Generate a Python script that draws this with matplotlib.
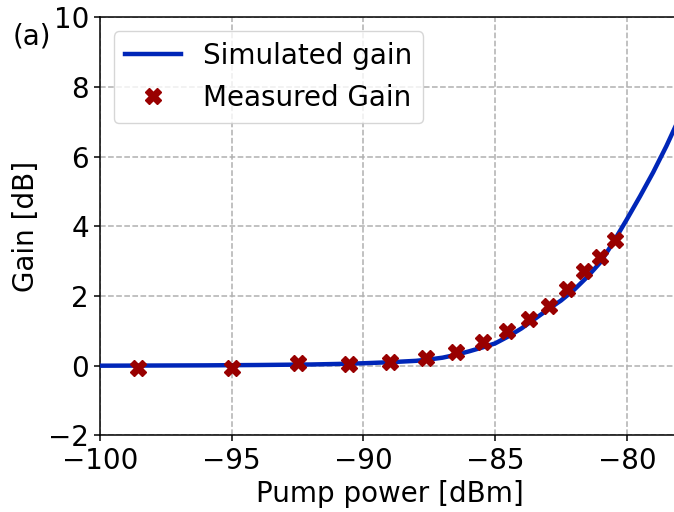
import matplotlib.pyplot as plt

# simulated gain curve
sim_power = [-100, -98, -96, -94, -92, -91, -90, -89, -88, -87.5, -87, -86.5, -86,
             -85.5, -85, -84.5, -84, -83.5, -83, -82.5, -82, -81.5, -81, -80.5,
             -80, -79.5, -79, -78.5, -78]
sim_gain = [0.0, 0.005, 0.01, 0.02, 0.035, 0.05, 0.07, 0.10, 0.14, 0.18, 0.23, 0.31, 0.41,
            0.52, 0.64, 0.84, 1.07, 1.34, 1.61, 1.87, 2.18, 2.55, 2.97, 3.56,
            4.20, 4.86, 5.55, 6.30, 7.12]

# measured points
meas_power = [-98.55, -95.0, -92.5, -90.56, -88.99, -87.64, -86.48, -85.45, -84.54,
              -83.70, -82.94, -82.26, -81.61, -81.02, -80.44]
meas_gain = [-0.06, -0.07, 0.07, 0.04, 0.10, 0.21, 0.38, 0.69, 1.00,
             1.34, 1.71, 2.20, 2.73, 3.11, 3.60]

fig = plt.figure(figsize=(6.74, 5.12), dpi=100)
ax = fig.add_axes([0.1484, 0.1496, 0.8598, 0.8168])

ax.plot(sim_power, sim_gain, color="#0026b8", lw=3.2, label="Simulated gain", zorder=3)
ax.plot(meas_power, meas_gain, ls="none", marker="X", ms=11, color="#990000",
        label="Measured Gain", zorder=4)

ax.set_xlim(-100, -78)
ax.set_ylim(-2, 10)
ax.set_xticks([-100, -95, -90, -85, -80])
ax.set_yticks([-2, 0, 2, 4, 6, 8, 10])
ax.grid(True, ls="--", color="#b0b0b0", lw=1.1)
ax.tick_params(labelsize=20, length=4.5, width=1.1)
ax.set_xlabel("Pump power [dBm]", fontsize=20, labelpad=4)
ax.set_ylabel("Gain [dB]", fontsize=20, labelpad=6)
ax.spines["right"].set_visible(False)
for s in ["left", "bottom", "top"]:
    ax.spines[s].set_linewidth(1.1)

ax.legend(loc="upper left", fontsize=20, handlelength=2.0)
fig.text(0.018, 0.913, "(a)", fontsize=20)

fig.savefig("out.png", dpi=100)
